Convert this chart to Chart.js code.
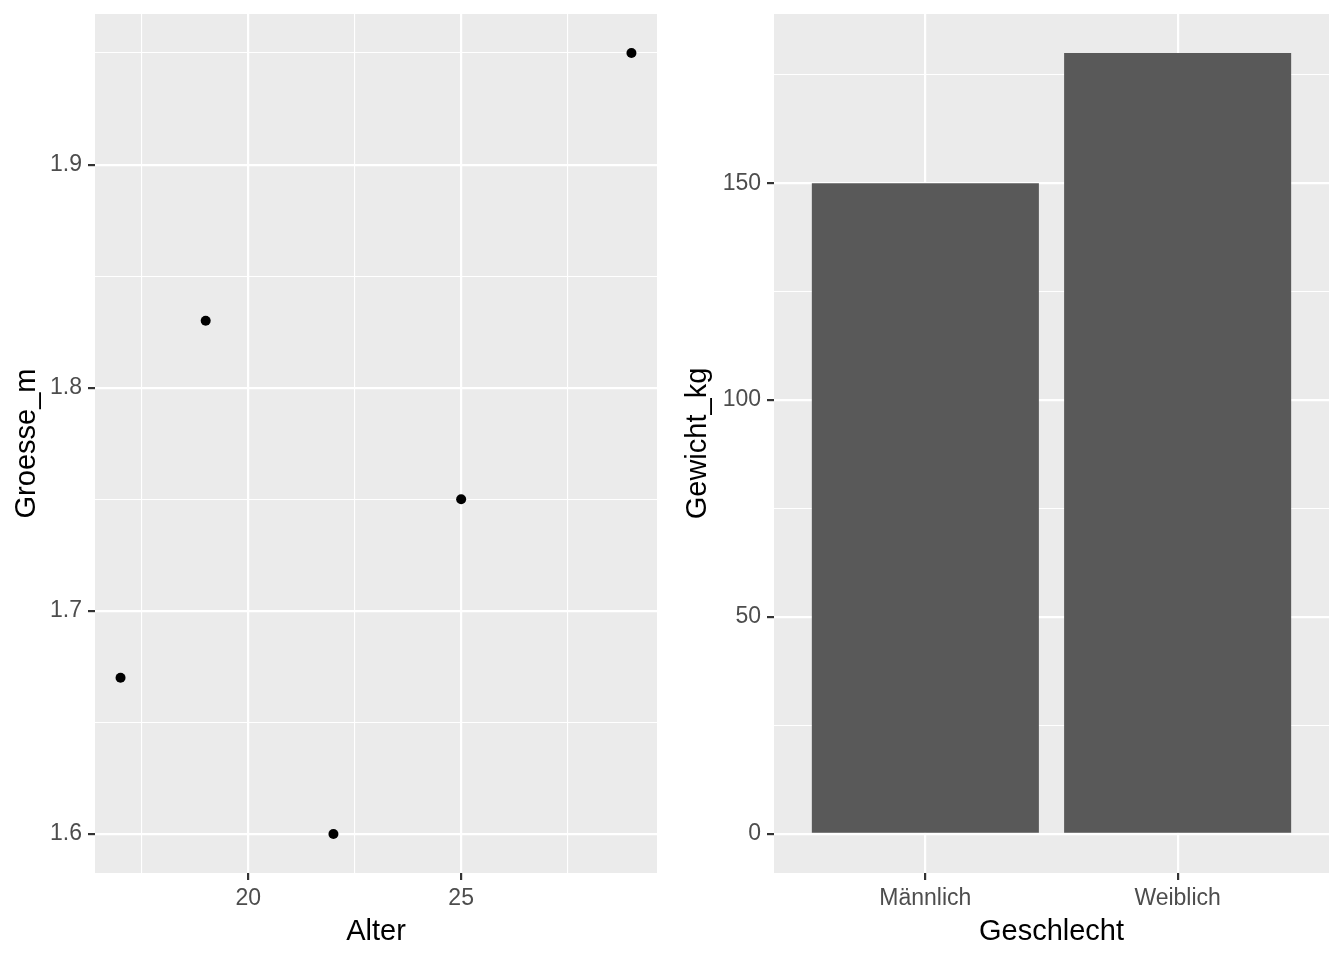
<!DOCTYPE html>
<html>
<head>
<meta charset="utf-8">
<script src="https://cdn.jsdelivr.net/npm/chart.js@4.4.1/dist/chart.umd.min.js"></script>
<style>
  html, body { margin: 0; padding: 0; background: #ffffff; }
  #wrap { position: relative; width: 1344px; height: 960px; }
  canvas { position: absolute; top: 0; }
  #c1 { left: 0; }
  #c2 { left: 672px; }
</style>
</head>
<body>
<div id="wrap">
  <canvas id="c1" width="672" height="960"></canvas>
  <canvas id="c2" width="672" height="960"></canvas>
</div>
<script>
// ---- Data (left panel: scatter) ----
const alter = [17, 19, 22, 25, 29];
const groesse = [1.67, 1.83, 1.60, 1.75, 1.95];
const altersTicks = [20, 25];
const altersMinor = [17.5, 22.5, 27.5];
const groesseTicks = [1.6, 1.7, 1.8, 1.9];
const groesseMinor = [1.65, 1.75, 1.85, 1.95];

// ---- Data (right panel: bars) ----
const geschlecht = ['Männlich', 'Weiblich'];
const gewicht = [150, 180];
const gewichtTicks = [0, 50, 100, 150];
const gewichtMinor = [25, 75, 125, 175];

const FONT = "'Liberation Sans', Arial, Helvetica, sans-serif";
const PANEL = '#EBEBEB';
const TICKCOL = '#4D4D4D';

Chart.defaults.animation = false;
Chart.defaults.devicePixelRatio = 1;

const panelBg = {
  id: 'panelBg',
  beforeDraw(chart) {
    const {ctx, chartArea: a} = chart;
    ctx.save();
    ctx.fillStyle = PANEL;
    ctx.fillRect(a.left, a.top, a.right - a.left, a.bottom - a.top);
    ctx.restore();
  }
};

function near(v, arr) { return arr.some(m => Math.abs(m - v) < 1e-9); }

function zeroPad(s) { s.paddingTop = 0; s.paddingBottom = 0; s.paddingLeft = 0; s.paddingRight = 0; }

function gridOpts(majors) {
  return {
    offset: false,
    color: '#FFFFFF',
    lineWidth: ctx => (ctx.tick && near(ctx.tick.value, majors)) ? 2.2 : 1.1,
    tickColor: ctx => (ctx.tick && near(ctx.tick.value, majors)) ? '#333333' : 'rgba(0,0,0,0)',
    tickWidth: 2.2,
    tickLength: 7,
    drawTicks: true,
    drawOnChartArea: true
  };
}

function xScale(min, max, majors, minors, labelFn, titleText) {
  return {
    type: 'linear',
    min, max,
    offset: false,
    border: { display: false },
    grid: gridOpts(majors),
    afterBuildTicks: s => { s.ticks = majors.concat(minors).sort((a, b) => a - b).map(v => ({ value: v })); },
    afterFit: s => { s.height = 87; zeroPad(s); },
    ticks: {
      autoSkip: false, maxRotation: 0, minRotation: 0,
      padding: 5,
      color: TICKCOL,
      font: { family: FONT, size: 23 },
      callback: v => near(v, majors) ? labelFn(v) : ''
    },
    title: {
      display: true, text: titleText, color: '#000000',
      font: { family: FONT, size: 29 },
      padding: { top: 0, bottom: 11 }
    }
  };
}

function yScale(min, max, majors, minors, labelFn, titleText, width, padTop) {
  return {
    type: 'linear',
    min, max,
    offset: false,
    border: { display: false },
    grid: gridOpts(majors),
    afterBuildTicks: s => { s.ticks = majors.concat(minors).sort((a, b) => a - b).map(v => ({ value: v })); },
    afterFit: s => { s.width = width; zeroPad(s); },
    ticks: {
      autoSkip: false,
      padding: 6,
      color: TICKCOL,
      font: { family: FONT, size: 23 },
      callback: v => near(v, majors) ? labelFn(v) : ''
    },
    title: {
      display: true, text: titleText, color: '#000000',
      font: { family: FONT, size: 29 },
      padding: { top: padTop, bottom: 0 }
    }
  };
}

// ---- Left: scatter ----
new Chart(document.getElementById('c1'), {
  type: 'scatter',
  data: {
    datasets: [{
      data: alter.map((a, i) => ({ x: a, y: groesse[i] })),
      pointRadius: 5,
      pointHoverRadius: 5,
      pointBackgroundColor: '#000000',
      pointBorderWidth: 0
    }]
  },
  options: {
    responsive: false,
    layout: { padding: { top: 14, right: 15, left: 0, bottom: 0 } },
    plugins: { legend: { display: false }, tooltip: { enabled: false } },
    scales: {
      x: xScale(16.4, 29.6, altersTicks, altersMinor, v => String(v), 'Alter'),
      y: yScale(1.5825, 1.9675, groesseTicks, groesseMinor, v => v.toFixed(1), 'Groesse_m', 95, 10)
    }
  },
  plugins: [panelBg]
});

// ---- Right: bars ----
const barPos = geschlecht.map((g, i) => i + 1);
new Chart(document.getElementById('c2'), {
  type: 'bar',
  data: {
    datasets: [{
      data: barPos.map((p, i) => ({ x: p, y: gewicht[i] })),
      backgroundColor: '#595959',
      borderWidth: 0,
      categoryPercentage: 1.0,
      barPercentage: 0.9
    }]
  },
  options: {
    responsive: false,
    layout: { padding: { top: 14, right: 15, left: 0, bottom: 0 } },
    plugins: { legend: { display: false }, tooltip: { enabled: false } },
    scales: {
      x: xScale(0.4, 2.6, barPos, [], v => geschlecht[Math.round(v) - 1], 'Geschlecht'),
      y: yScale(-9, 189, gewichtTicks, gewichtMinor, v => String(v), 'Gewicht_kg', 102, 9)
    }
  },
  plugins: [panelBg]
});
</script>
</body>
</html>
